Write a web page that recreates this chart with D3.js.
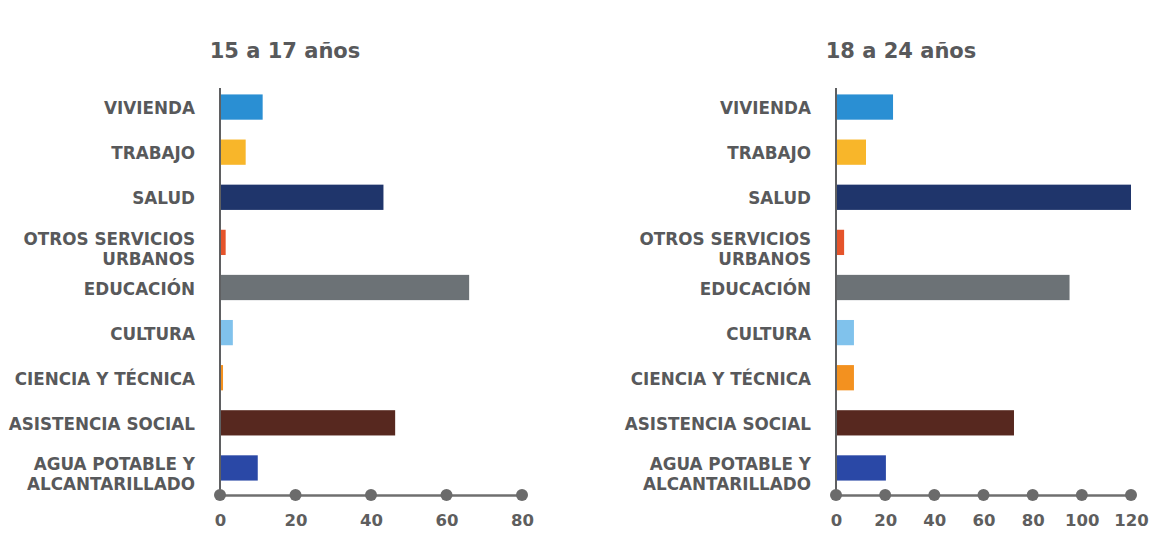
<!DOCTYPE html>
<html>
<head>
<meta charset="utf-8">
<script src="https://cdn.jsdelivr.net/npm/d3@7"></script>
<style>
  body { margin: 0; background: #fff; }
  svg text { font-family: "DejaVu Sans", Verdana, sans-serif; font-weight: bold; fill: #58595b; }
</style>
</head>
<body>
<div id="chart"></div>
<script>
const categories = [
  ["VIVIENDA"],
  ["TRABAJO"],
  ["SALUD"],
  ["OTROS SERVICIOS", "URBANOS"],
  ["EDUCACIÓN"],
  ["CULTURA"],
  ["CIENCIA Y TÉCNICA"],
  ["ASISTENCIA SOCIAL"],
  ["AGUA POTABLE Y", "ALCANTARILLADO"]
]
const values1517 = [11.3, 6.8, 43.3, 1.5, 66, 3.4, 0.8, 46.4, 10]
const values1824 = [23.2, 12.2, 120, 3.3, 95, 7.3, 7.3, 72.4, 20.3]
const ticks1517 = [0, 20, 40, 60, 80]
const ticks1824 = [0, 20, 40, 60, 80, 100, 120]
const colors = ["#2a8fd3", "#f8b62a", "#1f356b", "#e5542b", "#6c7276", "#80c2ec", "#f3911f", "#57281f", "#2a48a6"]

const width = 1149, height = 535
const axisY = 495

const svg = d3.select("#chart").append("svg")
    .attr("width", width)
    .attr("height", height)

const y = d3.scaleBand()
    .domain(d3.range(categories.length))
    .range([84.5, 490.5])
    .paddingInner(0.44)
    .paddingOuter(0.22)

function drawChart(title, values, ticks, x0, x1) {
  const g = svg.append("g")

  const x = d3.scaleLinear()
      .domain([0, ticks[ticks.length - 1]])
      .range([x0, x1])

  // Title
  g.append("text")
      .attr("x", x0 + 65)
      .attr("y", 58)
      .attr("text-anchor", "middle")
      .style("font-size", "21px")
      .text(title)

  // Bars
  g.selectAll("rect.bar").data(values).enter()
    .append("rect").attr("class", "bar")
      .attr("x", x(0))
      .attr("y", (d, i) => y(i))
      .attr("width", d => x(d) - x(0))
      .attr("height", y.bandwidth())
      .attr("fill", (d, i) => colors[i])

  // Category labels (two-line ones split into tspans)
  const lab = g.selectAll("text.cat").data(categories).enter()
    .append("text").attr("class", "cat")
      .attr("text-anchor", "end")
      .attr("x", x0 - 25)
      .attr("y", (d, i) => y(i) + y.bandwidth() / 2)
      .style("font-size", "16.8px")

  lab.selectAll("tspan").data(d => d.map(t => ({ t, n: d.length }))).enter()
    .append("tspan")
      .attr("x", x0 - 25)
      .attr("dy", (d, j) => d.n === 1 ? "0.42em" : (j === 0 ? "0.15em" : "1.17em"))
      .text(d => d.t)

  // Vertical axis
  g.append("line")
      .attr("x1", x0).attr("x2", x0)
      .attr("y1", 88).attr("y2", axisY)
      .attr("stroke", "#5f6062")
      .attr("stroke-width", 2)

  // Bottom axis
  const axis = g.append("g")
      .attr("transform", "translate(0," + axisY + ")")
      .call(d3.axisBottom(x).tickValues(ticks).tickSize(0).tickPadding(19))
  axis.select(".domain").attr("stroke", "#6f6f6f").attr("stroke-width", 2.5)
  axis.selectAll("text")
      .style("font-size", "16.5px")
      .style("fill", "#5e5e5e")

  g.selectAll("circle.dot").data(ticks).enter()
    .append("circle").attr("class", "dot")
      .attr("cx", d => x(d))
      .attr("cy", axisY)
      .attr("r", 6)
      .attr("fill", "#6b6b6b")
}

drawChart("15 a 17 años", values1517, ticks1517, 220, 522)
drawChart("18 a 24 años", values1824, ticks1824, 836, 1131)
</script>
</body>
</html>
